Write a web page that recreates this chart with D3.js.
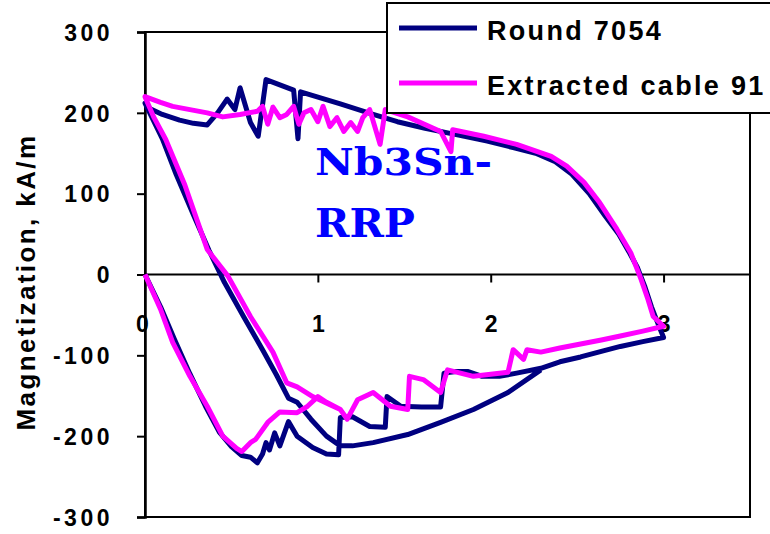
<!DOCTYPE html>
<html>
<head>
<meta charset="utf-8">
<script src="https://cdn.jsdelivr.net/npm/d3@7"></script>
<style>
  html, body { margin: 0; padding: 0; background: #fff; }
  svg { display: block; }
  text { font-family: "Liberation Sans", Arial, sans-serif; font-weight: bold; }
</style>
</head>
<body>
<svg id="chart" width="770" height="534"></svg>
<script>
// Magnetization loops: field (T) vs magnetization (kA/m)
const seriesNames = ["Round 7054", "Extracted cable 91"];
const seriesColors = ["#000080", "#ff00ff"];
const yTicks = [-300, -200, -100, 0, 100, 200, 300];
const xTicks = [0, 1, 2, 3];

// Round 7054: virgin up-sweep, down-sweep, second up-sweep
const roundUp1 = [[0,0],[0.09,-40],[0.17,-80],[0.26,-123],[0.35,-163],[0.43,-195],[0.50,-213],[0.56,-224],[0.61,-226],[0.65,-233],[0.68,-222],[0.70,-208],[0.72,-217],[0.75,-196],[0.78,-212],[0.83,-182],[0.88,-200],[0.97,-214],[1.05,-222],[1.12,-223],[1.13,-177],[1.20,-176],[1.30,-188],[1.39,-189],[1.40,-151],[1.48,-163],[1.60,-164],[1.71,-164],[1.73,-122],[1.80,-120],[1.87,-120],[1.95,-126],[2.05,-126],[2.15,-122],[2.29,-116],[2.40,-108],[2.52,-102],[2.64,-95],[2.75,-89],[2.88,-83],[3.0,-78]];
const roundDown = [[3.0,-78],[2.97,-62],[2.93,-40],[2.89,-14],[2.85,8],[2.80,28],[2.74,50],[2.66,73],[2.57,100],[2.47,124],[2.37,140],[2.26,150],[2.13,157],[1.98,165],[1.80,173],[1.62,181],[1.46,189],[1.32,198],[1.13,211],[0.90,226],[0.885,168],[0.86,228],[0.70,241],[0.655,171],[0.61,188],[0.55,231],[0.52,204],[0.475,217],[0.42,200],[0.36,185],[0.28,187],[0.20,191],[0.10,198],[0.03,205],[0,212]];
const roundUp2 = [[0,212],[0.05,190],[0.10,168],[0.18,124],[0.28,74],[0.37,30],[0.46,-10],[0.57,-52],[0.68,-93],[0.76,-124],[0.83,-153],[0.88,-158],[0.96,-179],[1.05,-200],[1.13,-212],[1.20,-212],[1.32,-208],[1.52,-198],[1.71,-183],[1.90,-167],[2.10,-146],[2.29,-118]];

// Extracted cable 91: virgin up-sweep, down-sweep, second up-sweep
const cableUp1 = [[0,0],[0.09,-43],[0.16,-84],[0.26,-126],[0.36,-163],[0.45,-200],[0.53,-215],[0.56,-219],[0.61,-208],[0.64,-204],[0.71,-183],[0.78,-170],[0.88,-171],[0.94,-163],[1.00,-151],[1.05,-158],[1.13,-167],[1.17,-179],[1.23,-155],[1.32,-146],[1.42,-163],[1.52,-167],[1.53,-126],[1.61,-130],[1.71,-146],[1.75,-118],[1.90,-126],[2.10,-121],[2.13,-93],[2.19,-105],[2.21,-93],[2.29,-96],[2.40,-91],[2.52,-86],[2.64,-81],[2.75,-76],[2.88,-70],[3.0,-64]];
const cableDown = [[3.0,-64],[2.94,-52],[2.91,-31],[2.87,-6],[2.81,27],[2.73,56],[2.63,89],[2.54,114],[2.44,134],[2.35,146],[2.15,161],[1.96,171],[1.78,179],[1.77,152],[1.71,177],[1.52,195],[1.39,204],[1.36,161],[1.30,204],[1.26,194],[1.23,177],[1.19,188],[1.15,177],[1.11,194],[1.07,183],[1.03,208],[1.00,189],[0.96,204],[0.92,200],[0.89,186],[0.86,208],[0.82,198],[0.78,194],[0.74,207],[0.71,186],[0.68,208],[0.65,202],[0.55,198],[0.45,195],[0.36,200],[0.16,208],[0.09,213],[0,220]];
const cableUp2 = [[0,220],[0.05,195],[0.12,167],[0.23,111],[0.36,31],[0.48,-2],[0.61,-52],[0.74,-96],[0.82,-134],[0.88,-139],[0.97,-151],[1.07,-161],[1.13,-167]];

const svg = d3.select("#chart");
const plotLeft = 145, plotRight = 750, plotTop = 32, plotBottom = 517;

const x = d3.scaleLinear().domain([0, 3.5]).range([plotLeft, plotRight]);
const y = d3.scaleLinear().domain([-300, 300]).range([plotBottom, plotTop]);
const tickLabel = d => String(d);

// plot frame
svg.append("rect")
  .attr("x", x(0)).attr("y", y(300))
  .attr("width", x(3.5) - x(0)).attr("height", y(-300) - y(300))
  .attr("fill", "none").attr("stroke", "#000").attr("stroke-width", 2);

// y axis
const yAxis = svg.append("g")
  .attr("transform", `translate(${x(0)},0)`)
  .call(d3.axisLeft(y).tickValues(yTicks).tickSize(8).tickPadding(24).tickFormat(tickLabel));
yAxis.select(".domain").attr("stroke", "#000").attr("stroke-width", 2.5);
yAxis.selectAll(".tick line").attr("stroke", "#000").attr("stroke-width", 2);
yAxis.selectAll(".tick text")
  .attr("fill", "#000").style("font-size", "23px").style("letter-spacing", "3.5px")
  .attr("dy", "0.36em");

// x axis along M = 0
const xAxis = svg.append("g")
  .attr("transform", `translate(0,${y(0)})`)
  .call(d3.axisBottom(x).tickValues(xTicks).tickSize(8).tickPadding(0).tickFormat(tickLabel));
xAxis.select(".domain").attr("stroke", "#000").attr("stroke-width", 2).attr("d", `M${x(0)},0H${x(3.5)}`);
xAxis.selectAll(".tick line").attr("stroke", "#000").attr("stroke-width", 2);
xAxis.selectAll(".tick text")
  .attr("fill", "#000").style("font-size", "23px")
  .attr("y", 0).attr("dy", 57)
  .attr("dx", d => d === 0 ? -3 : 0);

// y axis title
svg.append("text")
  .attr("transform", `translate(35,${(131 + 433) / 2}) rotate(-90)`)
  .attr("text-anchor", "middle")
  .style("font-size", "26px").style("letter-spacing", "2.4px")
  .attr("fill", "#000")
  .text("Magnetization, kA/m");

// curves
const line = d3.line().x(d => x(d[0])).y(d => y(d[1]));
const curves = [
  roundUp1.concat(roundDown.slice(1), roundUp2.slice(1)),
  cableUp1.concat(cableDown.slice(1), cableUp2.slice(1))
];
svg.selectAll("path.curve")
  .data(curves)
  .join("path")
  .attr("class", "curve")
  .attr("d", line)
  .attr("fill", "none")
  .attr("stroke", (d, i) => seriesColors[i])
  .attr("stroke-width", 5)
  .attr("stroke-linejoin", "round");

// material label
const label = svg.append("g").attr("fill", "#0000ff");
label.append("text").attr("x", 315).attr("y", 175)
  .style("font-family", "'DejaVu Serif', serif").style("font-size", "38px")
  .attr("textLength", 177).attr("lengthAdjust", "spacingAndGlyphs")
  .text("Nb3Sn-");
label.append("text").attr("x", 315).attr("y", 237)
  .style("font-family", "'DejaVu Serif', serif").style("font-size", "40px")
  .attr("textLength", 100).attr("lengthAdjust", "spacingAndGlyphs")
  .text("RRP");

// legend
const legend = svg.append("g");
legend.append("rect")
  .attr("x", 387).attr("y", 3).attr("width", 420).attr("height", 110)
  .attr("fill", "#fff").attr("stroke", "#000").attr("stroke-width", 2);
const items = legend.selectAll("g.item")
  .data(seriesNames)
  .join("g")
  .attr("class", "item")
  .attr("transform", (d, i) => `translate(0,${28 + i * 55})`);
items.append("line")
  .attr("x1", 399).attr("x2", 477).attr("y1", 0).attr("y2", 0)
  .attr("stroke", (d, i) => seriesColors[i]).attr("stroke-width", 5);
items.append("text")
  .attr("x", 487).attr("y", 12)
  .style("font-size", "27px").style("letter-spacing", "2.3px")
  .attr("fill", "#000")
  .text(d => d);
</script>
</body>
</html>
